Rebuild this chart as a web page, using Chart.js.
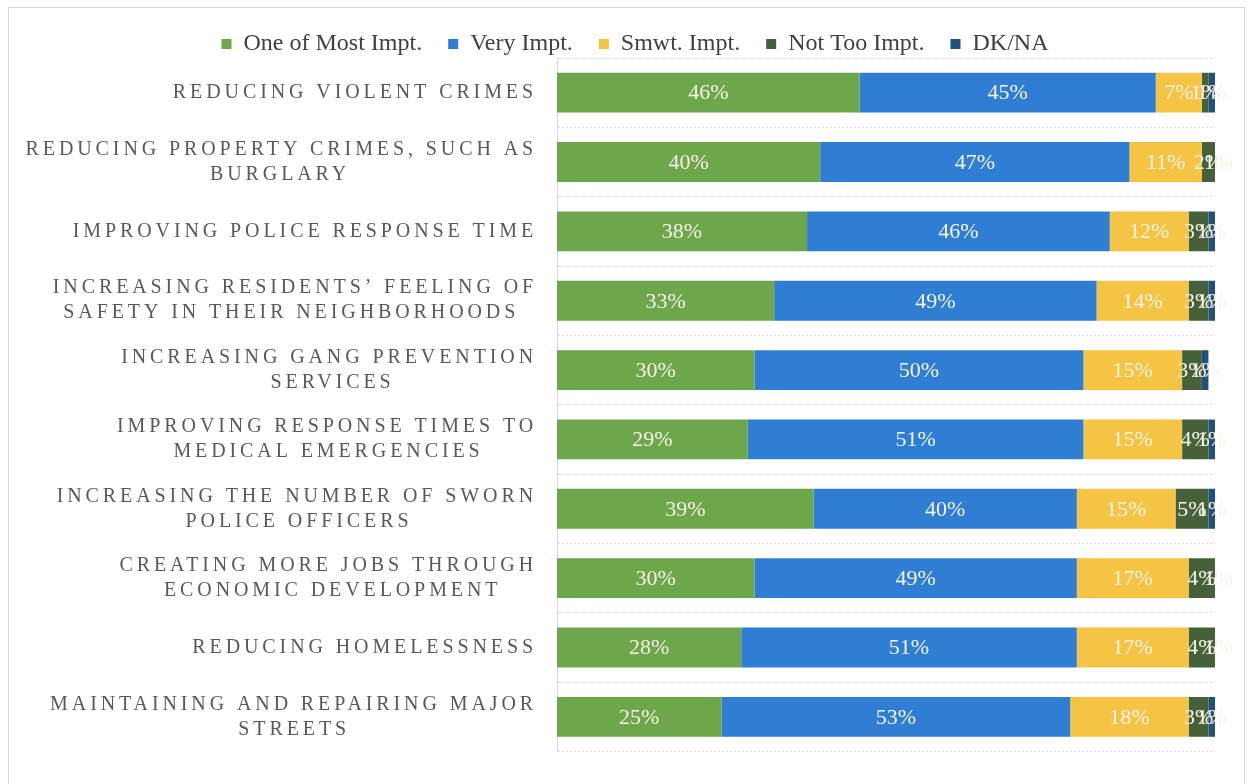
<!DOCTYPE html>
<html>
<head>
<meta charset="utf-8">
<script src="https://cdn.jsdelivr.net/npm/chart.js@4/dist/chart.umd.min.js"></script>
<style>
  html, body { margin: 0; padding: 0; background: #ffffff; }
  #wrap { position: relative; width: 1248px; height: 784px; overflow: hidden; }
  #frame { position: absolute; left: 8px; top: 7px; width: 1235px; height: 800px;
           border: 1px solid #d6d6d6; pointer-events: none; }
  canvas { position: absolute; left: 0; top: 0; }
</style>
</head>
<body>
<div id="wrap">
  <canvas id="c" width="1248" height="784"></canvas>
  <div id="frame"></div>
</div>
<script>
const categories = [
  ["REDUCING VIOLENT CRIMES"],
  ["REDUCING PROPERTY CRIMES, SUCH AS", "BURGLARY"],
  ["IMPROVING POLICE RESPONSE TIME"],
  ["INCREASING RESIDENTS\u2019 FEELING OF", "SAFETY IN THEIR NEIGHBORHOODS"],
  ["INCREASING GANG PREVENTION", "SERVICES"],
  ["IMPROVING RESPONSE TIMES TO", "MEDICAL EMERGENCIES"],
  ["INCREASING THE NUMBER OF SWORN", "POLICE OFFICERS"],
  ["CREATING MORE JOBS THROUGH", "ECONOMIC DEVELOPMENT"],
  ["REDUCING HOMELESSNESS"],
  ["MAINTAINING AND REPAIRING MAJOR", "STREETS"]
];
const seriesNames = ["One of Most Impt.", "Very Impt.", "Smwt. Impt.", "Not Too Impt.", "DK/NA"];
const mostImpt   = [46, 40, 38, 33, 30, 29, 39, 30, 28, 25];
const veryImpt   = [45, 47, 46, 49, 50, 51, 40, 49, 51, 53];
const smwtImpt   = [7, 11, 12, 14, 15, 15, 15, 17, 17, 18];
const notTooImpt = [1, 2, 3, 3, 3, 4, 5, 4, 4, 3];
const dkNa       = [1, 1, 1, 1, 1, 1, 1, 1, 1, 1];
const seriesColors = ["#6EA64B", "#2F7ED3", "#F5C445", "#46603A", "#21507A"];

const SERIF = '"Liberation Serif", "Times New Roman", serif';
const CAT_FONT_SIZE = 20;
const CAT_SPACING = '3.9px';
const LEGEND_BAND = 52;

const pctLabels = {
  id: 'pctLabels',
  beforeUpdate(chart) {
    const lg = chart.legend;
    if (lg && !lg._trimmed) {
      const fit = lg.fit.bind(lg);
      lg.fit = function () { fit(); this.height = LEGEND_BAND; };
      lg._trimmed = true;
    }
  },
  afterDatasetsDraw(chart) {
    const ctx = chart.ctx;
    ctx.save();
    ctx.letterSpacing = '0px';
    ctx.font = '22px ' + SERIF;
    ctx.fillStyle = '#F4F4E6';
    ctx.textAlign = 'center';
    ctx.textBaseline = 'middle';
    chart.data.datasets.forEach((ds, di) => {
      const meta = chart.getDatasetMeta(di);
      meta.data.forEach((el, i) => {
        const v = ds.data[i];
        if (!v) return;
        const cx = (el.x + el.base) / 2;
        ctx.fillText(Math.round(v) + '%', cx, el.y + 1);
      });
    });
    ctx.restore();
    // category tick labels (z:1 layer) are drawn next, with letter spacing
    ctx.letterSpacing = CAT_SPACING;
  },
  afterDraw(chart) {
    chart.ctx.letterSpacing = '0px';
  }
};

const ctx = document.getElementById('c').getContext('2d');
const chart = new Chart(ctx, {
  type: 'bar',
  data: {
    labels: categories,
    datasets: [mostImpt, veryImpt, smwtImpt, notTooImpt, dkNa].map((d, k) => ({
      label: seriesNames[k],
      data: d,
      backgroundColor: seriesColors[k],
      borderWidth: 0,
      barPercentage: 0.575,
      categoryPercentage: 1.0
    }))
  },
  options: {
    indexAxis: 'y',
    responsive: false,
    animation: false,
    devicePixelRatio: 1,
    layout: { padding: { top: 6, right: 0, bottom: 26, left: 22 } },
    plugins: {
      legend: {
        position: 'top',
        align: 'center',
        labels: {
          font: { family: SERIF, size: 24 },
          color: '#404040',
          boxWidth: 10,
          boxHeight: 10,
          padding: 26
        }
      },
      tooltip: { enabled: false },
      title: { display: false }
    },
    scales: {
      x: {
        stacked: true,
        min: 0,
        max: 100,
        display: false
      },
      y: {
        stacked: true,
        afterFit(scale) { scale.width = 535; },
        grid: {
          offset: true,
          drawTicks: false,
          color: '#d8d8d8',
          lineWidth: 1
        },
        border: { display: true, color: '#d9d9d9', dash: [2, 2] },
        ticks: {
          z: 1,
          padding: 20,
          color: '#595959',
          font: { family: SERIF, size: CAT_FONT_SIZE, lineHeight: 1.25 },
          autoSkip: false,
          callback: function(value, index) {
            const lines = categories[index];
            if (lines.length < 2) return lines[0];
            const c = this.chart.ctx;
            c.save();
            c.font = CAT_FONT_SIZE + 'px ' + SERIF;
            c.letterSpacing = CAT_SPACING;
            const widths = lines.map(l => c.measureText(l).width);
            const sp = c.measureText(' ').width;
            c.restore();
            const maxW = Math.max(...widths);
            return lines.map((l, k) => {
              const n = Math.round((maxW - widths[k]) / 2 / sp);
              return l + ' '.repeat(Math.max(0, n));
            });
          }
        }
      },
      yRight: {
        type: 'category',
        position: 'right',
        display: true,
        afterFit(scale) { scale.width = 33; },
        grid: { display: false },
        border: { display: false },
        ticks: { display: false }
      }
    }
  },
  plugins: [pctLabels]
});
</script>
</body>
</html>
